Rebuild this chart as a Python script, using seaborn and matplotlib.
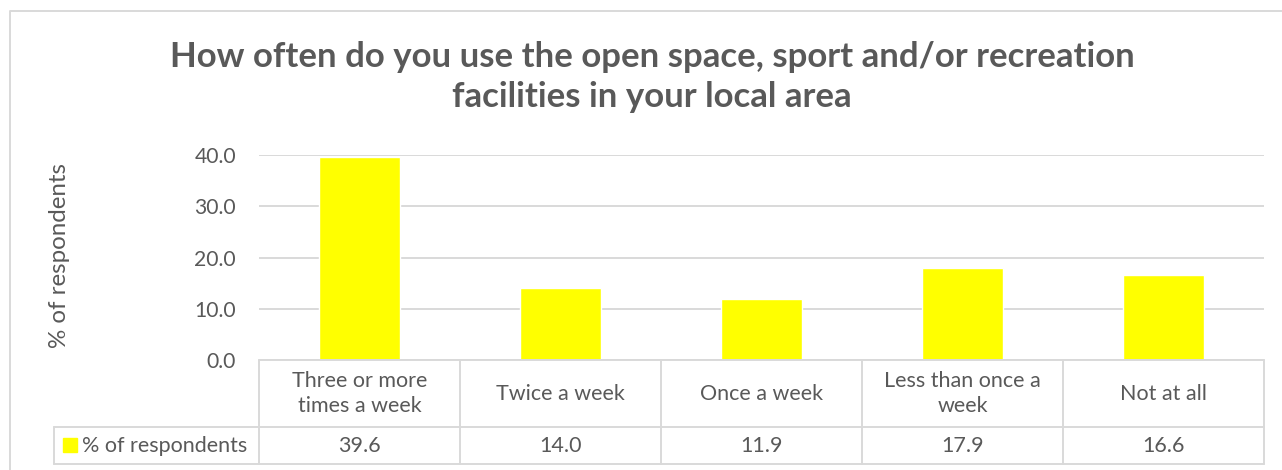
import matplotlib
matplotlib.use('Agg')
import matplotlib.pyplot as plt
import seaborn as sns
import pandas as pd
from matplotlib.lines import Line2D
from matplotlib.patches import Rectangle

categories = ['Three or more\ntimes a week', 'Twice a week', 'Once a week',
              'Less than once a\nweek', 'Not at all']
values = [39.6, 14.0, 11.9, 17.9, 16.6]
series_name = '% of respondents'
title = 'How often do you use the open space, sport and/or recreation\nfacilities in your local area'
yticks = [0, 10, 20, 30, 40]

sns.set_style('white')
plt.rcParams['font.family'] = ['Lato', 'DejaVu Sans']

grey = '#595959'
line_grey = '#D9D9D9'
W, H = 1282, 470

df = pd.DataFrame({'category': categories, 'value': values})

fig = plt.figure(figsize=(W / 100, H / 100), dpi=100)
ax = fig.add_axes([259 / W, (H - 360) / H, 1005 / W, 205 / H])

sns.barplot(data=df, x='category', y='value', color='#FFFF00', width=0.4,
            saturation=1, ax=ax, zorder=3)
ax.set_xlim(-0.5, len(categories) - 0.5)
ax.set_ylim(0, 40)
ax.set_yticks(yticks)
ax.set_yticklabels([f'{t:.1f}' for t in yticks], color=grey, fontsize=15.2)
ax.tick_params(axis='y', length=0, pad=16.5)
ax.set_xticks([])
ax.set_xlabel('')
ax.set_ylabel('')
for s in ax.spines.values():
    s.set_visible(False)
ax.yaxis.grid(True, color=line_grey, linewidth=1.4, zorder=0)

# data table under the plot
tr = ax.get_xaxis_transform()
n = len(categories)
row1 = -67 / 205
row2 = -104 / 205
left = -0.5 - (259 - 54) / (1005 / n)
lk = dict(color=line_grey, linewidth=1.4, transform=tr, clip_on=False, zorder=4)
ax.plot([-0.5, n - 0.5], [0, 0], **lk)
ax.plot([left, n - 0.5], [row1, row1], **lk)
ax.plot([left, n - 0.5], [row2, row2], **lk)
ax.plot([left, left], [row1, row2], **lk)
for i in range(n + 1):
    ax.plot([i - 0.5, i - 0.5], [0, row2], **lk)
for i, (c, v) in enumerate(zip(categories, values)):
    ax.text(i, row1 / 2, c, transform=tr, ha='center', va='center',
            fontsize=15.5, color=grey, linespacing=1.3)
    ax.text(i, (row1 + row2) / 2, f'{v:.1f}', transform=tr, ha='center',
            va='center', fontsize=15.5, color=grey)

fig.patches.append(Rectangle((63 / W, 1 - 452 / H), 14 / W, 14 / H,
                             transform=fig.transFigure, color='#FFFF00'))
fig.text(82 / W, 1 - 445.5 / H, series_name, ha='left', va='center',
         fontsize=15.5, color=grey)

fig.text(652 / W, 1 - 77 / H, title, ha='center', va='center', fontsize=25,
         fontweight='bold', color=grey, linespacing=1.3)
fig.text(60 / W, 1 - 256 / H, series_name, rotation=90, ha='center',
         va='center', fontsize=17.4, color=grey)

# chart area border (left and top visible)
fig.lines.append(Line2D([9.5 / W, 9.5 / W, 1], [0, 1 - 10.5 / H, 1 - 10.5 / H],
                        transform=fig.transFigure, color=line_grey,
                        linewidth=1.4))

fig.savefig('out.png', dpi=100)
